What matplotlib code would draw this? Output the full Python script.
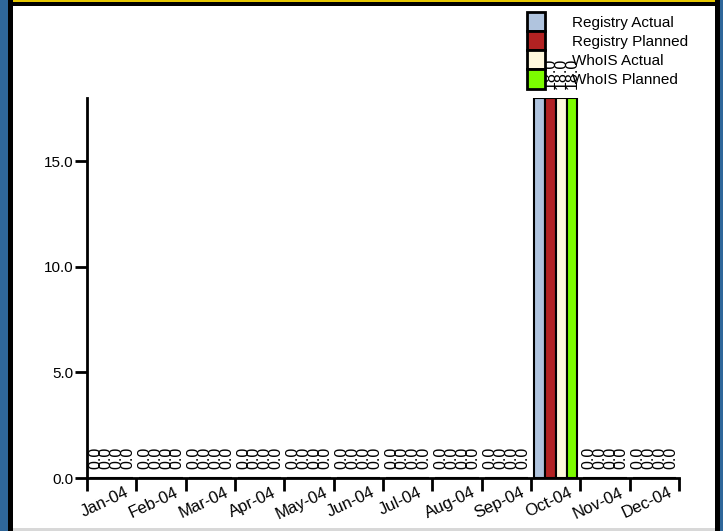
import numpy as np
import matplotlib
matplotlib.use("Agg")
import matplotlib.pyplot as plt
from matplotlib.patches import Rectangle, Patch
from matplotlib.ticker import FixedLocator, FormatStrFormatter
from matplotlib.transforms import ScaledTranslation

plt.rcParams['font.family'] = ['Liberation Sans', 'DejaVu Sans']

# ======== data ========
months = ["Jan-04", "Feb-04", "Mar-04", "Apr-04", "May-04", "Jun-04",
          "Jul-04", "Aug-04", "Sep-04", "Oct-04", "Nov-04", "Dec-04"]
series_names = ["Registry Actual", "Registry Planned", "WhoIS Actual", "WhoIS Planned"]
registry_actual = [0, 0, 0, 0, 0, 0, 0, 0, 0, 18, 0, 0]
registry_planned = [0, 0, 0, 0, 0, 0, 0, 0, 0, 18, 0, 0]
whois_actual = [0, 0, 0, 0, 0, 0, 0, 0, 0, 18, 0, 0]
whois_planned = [0, 0, 0, 0, 0, 0, 0, 0, 0, 18, 0, 0]
series_values = [registry_actual, registry_planned, whois_actual, whois_planned]
colors = ["#b0c4de", "#b22222", "#fff8dc", "#7cfc00"]

# ======== figure ========
W, H = 723, 531
fig = plt.figure(figsize=(W / 100, H / 100), dpi=100, facecolor="white")

def px_rect(x0, y0, x1, y1, color):
    # rectangle in pixel coords (y from top)
    fig.patches.append(Rectangle((x0 / W, 1 - y1 / H), (x1 - x0) / W, (y1 - y0) / H,
                                 transform=fig.transFigure, facecolor=color,
                                 edgecolor="none", zorder=-10))

# frame around the picture
px_rect(0, 0, 8, H, "#2f6699")
px_rect(720, 0, W, H, "#2f6699")
px_rect(8, 0, 720, 1.5, "#e6c700")
px_rect(8, 1.5, 720, 6, "black")
px_rect(8, 0, 13, H, "black")
px_rect(715, 0, 720, H, "black")
px_rect(13, 528, 715, H, "#d8d8d8")

ax = fig.add_axes([87 / W, 1 - 478 / H, (679 - 87) / W, (478 - 98) / H])
ax.set_facecolor("none")

x = np.arange(len(months))
group_w = 0.88
bar_w = group_w / len(series_values)
for k, (vals, c, name) in enumerate(zip(series_values, colors, series_names)):
    pos = x - group_w / 2 + bar_w * (k + 0.5)
    bars = ax.bar(pos, vals, width=bar_w, color=c, edgecolor="black",
                  linewidth=1.5, label=name, zorder=2)
    for px, v in zip(pos, vals):
        ax.annotate(f"{v:.1f}", xy=(px, v), xytext=(0, 6.5), textcoords="offset points",
                    rotation=90, ha="center", va="bottom", fontsize=11.5,
                    annotation_clip=False, zorder=5)

ax.set_xlim(-0.5, len(months) - 0.5)
ax.set_ylim(0, 18)

for s in ["top", "right"]:
    ax.spines[s].set_visible(False)
for s in ["left", "bottom"]:
    ax.spines[s].set_linewidth(2)
    ax.spines[s].set_zorder(3)

ax.set_yticks([0, 5, 10, 15])
ax.yaxis.set_major_formatter(FormatStrFormatter("%.1f"))
ax.tick_params(axis="y", length=9, width=2, pad=1, labelsize=11)

ax.xaxis.set_major_locator(FixedLocator(np.arange(-0.5, len(months), 1.0)))
ax.xaxis.set_minor_locator(FixedLocator(x))
ax.set_xticklabels([""] * (len(months) + 1))
ax.set_xticklabels(months, minor=True, rotation=25, ha="center", fontsize=12)
ax.tick_params(axis="x", which="major", length=9, width=2)
ax.tick_params(axis="x", which="minor", length=0, pad=5)
shift = ScaledTranslation(-7 / 100, 0, fig.dpi_scale_trans)
for lab in ax.xaxis.get_minorticklabels():
    lab.set_transform(lab.get_transform() + shift)

handles = [Patch(facecolor=c, edgecolor="black", linewidth=2) for c in colors]
fig.legend(handles, series_names, loc="upper left",
           bbox_to_anchor=(527 / W, 1 - 12 / H), bbox_transform=fig.transFigure,
           frameon=False, fontsize=11, borderpad=0, borderaxespad=0,
           labelspacing=0.0, handlelength=1.18, handleheight=1.55, handletextpad=1.75)

fig.savefig("out.png", dpi=100)
